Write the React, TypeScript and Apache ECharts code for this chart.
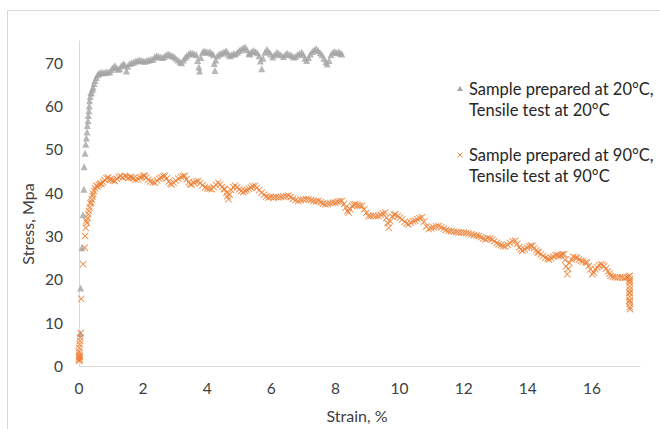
import React, { useEffect, useRef } from "react";
import * as echarts from "echarts";

const seriesNames = [
  "Sample prepared at 20°C,\nTensile test at 20°C",
  "Sample prepared at 90°C,\nTensile test at 90°C",
];
const seriesColors = ["#a5a5a5", "#ed7d31"];
const xAxisTitle = "Strain, %";
const yAxisTitle = "Stress, Mpa";

// [strain %, stress MPa] – sample prepared at 20°C
const gray20: [number, number][] = [
  [0.04, 7.5], [0.05, 18.0], [0.09, 27.3], [0.12, 34.9], [0.15, 40.8], [0.16, 46.0], [0.19, 49.1],
  [0.21, 51.2], [0.23, 52.6], [0.25, 54.0], [0.26, 55.5], [0.28, 56.6], [0.29, 57.8], [0.31, 58.9],
  [0.32, 60.0], [0.33, 61.2], [0.35, 62.2], [0.37, 63.1], [0.39, 63.0], [0.42, 63.8], [0.44, 64.3],
  [0.47, 65.2], [0.50, 65.9], [0.54, 66.6], [0.58, 67.2], [0.62, 67.5], [0.66, 67.7], [0.72, 67.8],
  [0.78, 67.7], [0.84, 67.9], [0.90, 67.8], [0.96, 67.9], [1.01, 68.4], [1.06, 68.9], [1.12, 69.3],
  [1.17, 68.8], [1.22, 68.5], [1.27, 68.6], [1.32, 69.3], [1.38, 69.7], [1.43, 69.5], [1.48, 68.1],
  [1.52, 69.2], [1.58, 69.8], [1.64, 70.0], [1.70, 70.1], [1.76, 70.3], [1.82, 70.5], [1.88, 70.6],
  [1.94, 70.5], [2.00, 70.4], [2.06, 70.3], [2.12, 70.5], [2.18, 70.6], [2.24, 70.8], [2.31, 70.8],
  [2.36, 71.3], [2.42, 71.6], [2.48, 71.5], [2.54, 71.3], [2.60, 71.2], [2.66, 71.4], [2.72, 71.8],
  [2.78, 72.0], [2.84, 71.8], [2.90, 71.6], [2.96, 71.4], [3.02, 71.0], [3.09, 70.6], [3.15, 70.2],
  [3.20, 70.0], [3.26, 70.6], [3.31, 71.2], [3.36, 71.6], [3.42, 72.0], [3.48, 72.3], [3.54, 72.2],
  [3.60, 72.0], [3.66, 71.8], [3.70, 70.5], [3.74, 69.0], [3.76, 68.1], [3.80, 71.2], [3.85, 72.4],
  [3.90, 72.7], [3.96, 72.6], [4.02, 72.4], [4.08, 72.5], [4.14, 72.2], [4.19, 71.8], [4.22, 69.8],
  [4.24, 68.2], [4.27, 70.6], [4.32, 71.6], [4.38, 72.0], [4.44, 72.2], [4.50, 72.4], [4.56, 72.6],
  [4.60, 72.7], [4.66, 72.0], [4.71, 71.6], [4.76, 71.8], [4.82, 72.1], [4.88, 72.0], [4.94, 72.4],
  [5.00, 72.8], [5.06, 73.1], [5.12, 73.4], [5.18, 73.6], [5.24, 73.0], [5.30, 72.2], [5.33, 72.0],
  [5.38, 72.5], [5.44, 72.8], [5.50, 72.6], [5.56, 72.3], [5.62, 71.6], [5.66, 70.4], [5.70, 68.6],
  [5.74, 71.0], [5.80, 72.4], [5.86, 73.1], [5.92, 72.6], [5.98, 72.0], [6.04, 71.3], [6.10, 71.8],
  [6.17, 72.4], [6.23, 72.1], [6.30, 71.8], [6.38, 71.4], [6.44, 71.9], [6.50, 72.2], [6.58, 71.9],
  [6.64, 71.6], [6.70, 71.3], [6.76, 71.5], [6.82, 71.9], [6.88, 72.2], [6.95, 72.4], [7.00, 71.8],
  [7.05, 71.0], [7.10, 70.5], [7.16, 71.2], [7.22, 72.0], [7.28, 72.6], [7.34, 73.0], [7.40, 73.2],
  [7.46, 72.8], [7.52, 72.3], [7.58, 71.8], [7.64, 71.0], [7.70, 70.2], [7.74, 69.7], [7.80, 70.5],
  [7.86, 71.8], [7.92, 72.4], [7.98, 72.6], [8.04, 72.3], [8.10, 72.5], [8.16, 72.2], [8.20, 72.0],
];

// [strain %, stress MPa] – sample prepared at 90°C
const orange90: [number, number][] = [
  [0.0, 1.2], [0.01, 1.6], [0.0, 2.0], [0.02, 2.4], [0.01, 2.9], [0.0, 3.4], [0.02, 1.4], [0.03, 2.1],
  [0.01, 4.2], [0.02, 5.0], [0.03, 5.8], [0.04, 6.6], [0.05, 7.6],
  [0.07, 15.5], [0.13, 23.5], [0.18, 27.3], [0.19, 30.0], [0.21, 31.9], [0.23, 33.5], [0.25, 33.0],
  [0.27, 34.2], [0.29, 35.0], [0.31, 35.8], [0.33, 36.6], [0.36, 37.5], [0.38, 37.8], [0.40, 38.4],
  [0.42, 39.2], [0.44, 39.7], [0.47, 40.4], [0.50, 41.0], [0.54, 41.6], [0.58, 41.4], [0.62, 41.8],
  [0.66, 42.1], [0.70, 42.0], [0.75, 42.4], [0.80, 42.9], [0.86, 43.3], [0.91, 43.5], [0.96, 43.1],
  [1.01, 43.0], [1.06, 42.8], [1.12, 42.7], [1.18, 43.2], [1.24, 43.6], [1.30, 43.8], [1.36, 43.5],
  [1.43, 43.9], [1.48, 43.7], [1.54, 43.4], [1.59, 43.6], [1.64, 43.5], [1.70, 43.3], [1.76, 43.0],
  [1.84, 43.1], [1.90, 43.5], [1.96, 43.7], [2.02, 43.9], [2.05, 43.9], [2.10, 43.5], [2.16, 43.0],
  [2.22, 42.6], [2.30, 42.4], [2.37, 42.3], [2.44, 42.8], [2.50, 43.2], [2.56, 43.5], [2.62, 43.8],
  [2.68, 43.9], [2.74, 43.3], [2.80, 42.6], [2.85, 42.1], [2.89, 41.9], [2.95, 42.3], [3.02, 42.8],
  [3.10, 43.2], [3.18, 43.6], [3.24, 43.8], [3.30, 43.9], [3.36, 43.1], [3.42, 42.4], [3.47, 42.0],
  [3.51, 41.9], [3.58, 42.3], [3.65, 42.6], [3.72, 42.7], [3.78, 42.2], [3.85, 41.7], [3.93, 41.2],
  [4.00, 41.0], [4.07, 40.9], [4.14, 40.8], [4.20, 41.3], [4.27, 41.8], [4.34, 42.3], [4.40, 41.9],
  [4.46, 41.3], [4.52, 40.9], [4.55, 40.8], [4.60, 40.0], [4.63, 39.2], [4.66, 38.5], [4.70, 39.6],
  [4.75, 40.6], [4.81, 41.3], [4.87, 41.6], [4.93, 41.2], [5.00, 40.8], [5.06, 40.4], [5.12, 40.1],
  [5.18, 40.4], [5.24, 40.6], [5.30, 40.9], [5.36, 41.2], [5.42, 41.5], [5.49, 41.6], [5.55, 41.1],
  [5.62, 40.6], [5.70, 40.0], [5.77, 39.5], [5.84, 39.1], [5.91, 38.9], [5.98, 39.0], [6.06, 38.9],
  [6.14, 39.0], [6.22, 38.9], [6.30, 39.0], [6.38, 39.1], [6.46, 39.2], [6.53, 39.3], [6.60, 39.0],
  [6.68, 38.6], [6.76, 38.3], [6.84, 38.1], [6.92, 38.3], [7.00, 38.4], [7.08, 38.5], [7.16, 38.5],
  [7.24, 38.3], [7.32, 38.1], [7.40, 38.0], [7.47, 38.1], [7.54, 37.8], [7.61, 37.5], [7.68, 37.3],
  [7.76, 37.4], [7.84, 37.6], [7.92, 37.7], [7.99, 37.7], [8.06, 37.9], [8.13, 38.0], [8.20, 38.1],
  [8.27, 37.4], [8.32, 36.6], [8.37, 35.8], [8.41, 35.4], [8.46, 36.2], [8.52, 36.9], [8.57, 37.2],
  [8.62, 37.3], [8.69, 37.1], [8.76, 37.0], [8.83, 37.0], [8.90, 36.2], [8.96, 35.3], [9.03, 34.6],
  [9.10, 34.6], [9.18, 34.7], [9.26, 34.6], [9.34, 34.6], [9.41, 34.9], [9.48, 35.2], [9.55, 35.4],
  [9.59, 34.2], [9.63, 33.0], [9.66, 31.9], [9.71, 33.4], [9.77, 34.5], [9.83, 34.9], [9.87, 35.0],
  [9.94, 34.6], [10.01, 34.2], [10.08, 33.8], [10.16, 33.3], [10.22, 32.9], [10.28, 32.7], [10.35, 33.1],
  [10.42, 33.4], [10.49, 33.5], [10.55, 33.9], [10.62, 34.1], [10.70, 34.3], [10.76, 33.3], [10.83, 32.2],
  [10.91, 31.6], [10.98, 31.8], [11.06, 32.0], [11.14, 32.2], [11.22, 32.3], [11.30, 32.0], [11.38, 31.7],
  [11.45, 31.4], [11.53, 31.2], [11.61, 31.1], [11.69, 31.0], [11.77, 30.9], [11.84, 30.8], [11.92, 30.8],
  [12.00, 30.8], [12.08, 30.7], [12.16, 30.6], [12.24, 30.4], [12.32, 30.2], [12.40, 30.1], [12.47, 30.0],
  [12.54, 29.7], [12.61, 29.4], [12.68, 29.2], [12.75, 29.5], [12.82, 29.4], [12.89, 29.2], [12.96, 28.8],
  [13.03, 28.4], [13.09, 28.1], [13.16, 27.9], [13.23, 27.7], [13.30, 27.6], [13.37, 28.0], [13.44, 28.4],
  [13.52, 28.8], [13.61, 28.9], [13.67, 28.2], [13.73, 27.4], [13.78, 26.9], [13.83, 26.6], [13.90, 26.9],
  [13.97, 27.3], [14.04, 27.6], [14.10, 27.8], [14.14, 27.7], [14.20, 27.2], [14.26, 26.7], [14.30, 26.3],
  [14.34, 26.2], [14.41, 25.8], [14.48, 25.4], [14.55, 25.0], [14.62, 24.8], [14.66, 24.6], [14.73, 24.9],
  [14.80, 25.2], [14.87, 25.5], [14.93, 25.6], [14.97, 25.4], [15.03, 25.6], [15.08, 25.8], [15.13, 25.8],
  [15.16, 24.5], [15.19, 23.0], [15.23, 21.2], [15.26, 22.4], [15.30, 23.8], [15.36, 24.6], [15.42, 25.2],
  [15.49, 25.0], [15.54, 25.0], [15.60, 24.6], [15.66, 24.3], [15.72, 24.1], [15.80, 23.9], [15.85, 23.9],
  [15.90, 23.1], [15.95, 22.3], [16.01, 21.2], [16.06, 21.6], [16.11, 22.3], [16.16, 22.8], [16.22, 23.2],
  [16.28, 23.5], [16.33, 23.3], [16.38, 23.0], [16.44, 22.5], [16.50, 21.8], [16.55, 21.3], [16.58, 20.8],
  [16.65, 20.6], [16.72, 20.5], [16.80, 20.4], [16.88, 20.5], [16.95, 20.4], [17.02, 20.3], [17.08, 20.5],
  [17.14, 20.6], [17.18, 20.8], [17.18, 20.0], [17.18, 19.2], [17.18, 18.4], [17.18, 17.6], [17.18, 16.8],
  [17.18, 16.0], [17.18, 15.2], [17.18, 14.4], [17.18, 13.6], [17.19, 13.1], [17.17, 19.6], [17.17, 17.0],
  [17.17, 15.0],
];

const FONT = "Lato";
const TEXT_COLOR = "#404040";
const CROSS =
  "path://M0,0.9L0.9,0L5,4.1L9.1,0L10,0.9L5.9,5L10,9.1L9.1,10L5,5.9L0.9,10L0,9.1L4.1,5Z";

export default function App() {
  const ref = useRef<HTMLDivElement>(null);
  useEffect(() => {
    if (!ref.current) return;
    const chart = echarts.init(ref.current, undefined, { renderer: "svg" });
    const legendX = 460;
    const legendTops = [89, 155];
    chart.setOption({
      animation: false,
      backgroundColor: "#ffffff",
      textStyle: { fontFamily: FONT },
      grid: { left: 79, right: 20, top: 41, bottom: 63, containLabel: false },
      xAxis: {
        type: "value",
        min: 0,
        max: 17.5,
        interval: 2,
        axisLine: { show: true, lineStyle: { color: "#d9d9d9", width: 1 } },
        axisTick: { show: false },
        splitLine: { show: false },
        axisLabel: {
          color: TEXT_COLOR,
          fontSize: 15.5,
          fontFamily: FONT,
          margin: 14,
          showMaxLabel: false,
        },
      },
      yAxis: {
        type: "value",
        min: 0,
        max: 75,
        interval: 10,
        axisLine: { show: true, lineStyle: { color: "#d9d9d9", width: 1 } },
        axisTick: { show: false },
        splitLine: { show: false },
        axisLabel: {
          color: TEXT_COLOR,
          fontSize: 15.5,
          fontFamily: FONT,
          margin: 16,
          showMaxLabel: false,
        },
      },
      series: [
        {
          name: seriesNames[0],
          type: "scatter",
          data: gray20,
          symbol: "triangle",
          symbolSize: [7, 7],
          itemStyle: { color: seriesColors[0] },
        },
        {
          name: seriesNames[1],
          type: "scatter",
          data: orange90,
          symbol: CROSS,
          symbolSize: 7,
          itemStyle: { color: seriesColors[1], opacity: 0.9 },
        },
      ],
      graphic: [
        {
          type: "rect",
          shape: { x: 7.5, y: 10.5, width: 700, height: 500 },
          style: { fill: "none", stroke: "#d9d9d9", lineWidth: 1 },
          silent: true,
        },
        {
          type: "text",
          x: 27,
          y: 224,
          rotation: Math.PI / 2,
          style: {
            text: yAxisTitle,
            fill: TEXT_COLOR,
            font: `16px ${FONT}`,
            align: "center",
            verticalAlign: "middle",
          },
        },
        {
          type: "text",
          x: 357,
          y: 415,
          style: {
            text: xAxisTitle,
            fill: TEXT_COLOR,
            font: `16px ${FONT}`,
            align: "center",
            verticalAlign: "middle",
          },
        },
        {
          type: "polygon",
          shape: { points: [[legendX, legendTops[0] - 3], [legendX - 3, legendTops[0] + 2], [legendX + 3, legendTops[0] + 2]] },
          style: { fill: seriesColors[0] },
        },
        {
          type: "line",
          shape: { x1: legendX - 2.5, y1: legendTops[1] - 2.5, x2: legendX + 2.5, y2: legendTops[1] + 2.5 },
          style: { stroke: seriesColors[1], lineWidth: 0.9 },
        },
        {
          type: "line",
          shape: { x1: legendX + 2.5, y1: legendTops[1] - 2.5, x2: legendX - 2.5, y2: legendTops[1] + 2.5 },
          style: { stroke: seriesColors[1], lineWidth: 0.9 },
        },
        ...seriesNames.map((name, i) => ({
          type: "text",
          x: 469,
          y: legendTops[i] - 10.5,
          style: {
            text: name,
            fill: "#262626",
            font: `16.5px ${FONT}`,
            lineHeight: 21,
            align: "left",
            verticalAlign: "top",
          },
        })),
      ],
    });
    return () => chart.dispose();
  }, []);
  return (
    <div
      ref={ref}
      style={{ position: "fixed", left: 0, top: 0, width: 660, height: 429, background: "#fff" }}
    />
  );
}
